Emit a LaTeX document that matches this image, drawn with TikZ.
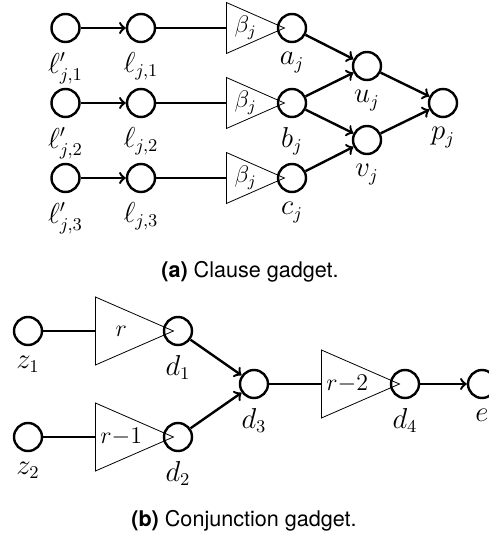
\documentclass[tikz,border=0pt]{standalone}
\usepackage{amsmath}
\usepackage{fontspec}
\newfontfamily\capfont{TeX Gyre Heros}
\usetikzlibrary{calc,positioning,arrows,shapes}

\begin{document}
\begin{tikzpicture}[x=0.5pt, y=-0.5pt, >=to, label distance=3.5pt, lbl/.style={inner sep=1pt, font=\fontsize{13.5}{16}\selectfont}, gain/.style={font=\fontsize{11.5}{14}\selectfont}, captxt/.style={font=\fontsize{10.8}{13}\capfont}]
\tikzstyle{vtx}=[circle, draw, very thick, minimum size=14pt, inner sep=0pt]
\tikzstyle{amp}=[isosceles triangle, isosceles triangle stretches, draw, inner sep=0pt, anchor=west]
\useasboundingbox (0,0) rectangle (488,539);

% clause gadget
\foreach \i/\y in {1/28, 2/103, 3/178}{
\node[vtx, label={[lbl]below:$\ell'_{j,\i}$}] (lp\i) at (65.5,\y){};
\node[vtx, label={[lbl]below:$\ell_{j,\i}$}] (l\i) at (141,\y){};
\node[amp, minimum width=25.5pt, minimum height=29pt] (t\i) at (226,\y){};
\node[gain] (w\i) at ($(t\i.west)!0.33!(t\i.apex)$) {$\beta_j$};
\draw[very thick, ->] (lp\i) -- (l\i);
\draw[very thick] (l\i) -- (t\i);
}
\node[vtx, label={[lbl]below:$a_j$}] (a) at (292,28){};
\node[vtx, label={[lbl]below:$b_j$}] (b) at (292,103){};
\node[vtx, label={[lbl]below:$c_j$}] (c) at (292,178){};
\node[vtx, label={[lbl]below:$u_j$}] (u) at (367,66){};
\node[vtx, label={[lbl]below:$v_j$}] (v) at (367,140){};
\node[vtx, label={[lbl]below:$p_j$}] (p) at (443,103){};
\foreach \s/\e in {a/u, b/u, b/v, c/v, u/p, v/p}{
\draw[very thick, ->] (\s) -- (\e);
}
\node[captxt] (capa) at (250,272) {\textbf{(a)} Clause gadget.};

% conjunction gadget
\node[vtx, label={[lbl]below:$z_1$}] (z1) at (28,331){};
\node[vtx, label={[lbl]below:$z_2$}] (z2) at (28,437){};
\node[amp, minimum width=34pt, minimum height=39pt] (r1) at (95,331){};
\node[amp, minimum width=34pt, minimum height=39pt] (r2) at (95,437){};
\node[amp, minimum width=34pt, minimum height=39pt] (r3) at (321,384){};
\node[gain] (x1) at ($(r1.west)!0.33!(r1.apex)$) {$r$};
\node[gain] (x2) at ($(r2.west)!0.33!(r2.apex)$) {$r{-}1$};
\node[gain] (x3) at ($(r3.west)!0.33!(r3.apex)$) {$r{-}2$};
\node[vtx, label={[lbl]below:$d_1$}] (d1) at (178,331){};
\node[vtx, label={[lbl]below:$d_2$}] (d2) at (178,437){};
\node[vtx, label={[lbl]below:$d_3$}] (d3) at (254,384){};
\node[vtx, label={[lbl]below:$d_4$}] (d4) at (405,384){};
\node[vtx, label={[lbl]below:$e$}] (e) at (482,384){};
\draw[very thick] (z1) -- (r1);
\draw[very thick] (z2) -- (r2);
\draw[very thick] (d3) -- (r3);
\draw[very thick, ->] (d1) -- (d3);
\draw[very thick, ->] (d2) -- (d3);
\draw[very thick, ->] (d4) -- (e);
\node[captxt] (capb) at (244,521) {\textbf{(b)} Conjunction gadget.};
\end{tikzpicture}
\end{document}
